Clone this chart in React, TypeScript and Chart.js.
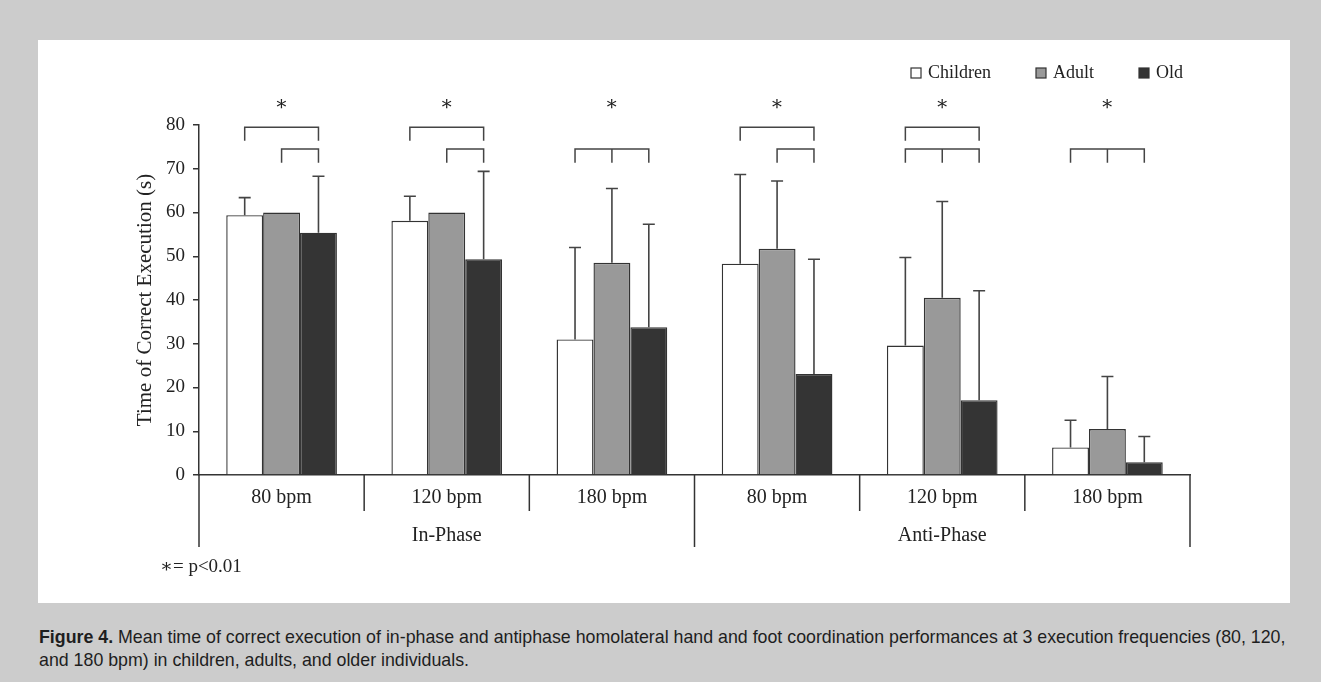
import React, { useEffect, useRef } from 'react';
import { Chart, registerables } from 'chart.js';

Chart.register(...registerables);

// ---------- data ----------
const categories = ['80 bpm', '120 bpm', '180 bpm', '80 bpm', '120 bpm', '180 bpm'];
const phaseGroups = ['In-Phase', 'Anti-Phase'];
const phaseGroupSizes = [3, 3];
const seriesNames = ['Children', 'Adult', 'Old'];
const childrenMeans = [59.4, 58.1, 31.0, 48.3, 29.6, 6.3];
const childrenSD = [4.0, 5.6, 21.0, 20.4, 20.1, 6.2];
const adultMeans = [60.0, 60.0, 48.5, 51.7, 40.5, 10.5];
const adultSD = [0, 0, 17.0, 15.5, 22.0, 12.0];
const oldMeans = [55.4, 49.3, 33.8, 23.1, 17.1, 2.9];
const oldSD = [12.9, 20.1, 23.5, 26.2, 25.0, 5.9];
const yMin = 0;
const yMax = 80;
const yStep = 10;
// significance brackets: category index, first bar, last bar, level (0 upper, 1 lower), middle leg
const bracketCats = [0, 0, 1, 1, 2, 3, 3, 4, 4, 5];
const bracketFrom = [0, 1, 0, 1, 0, 0, 1, 0, 0, 0];
const bracketTo = [2, 2, 2, 2, 2, 2, 2, 2, 2, 2];
const bracketLevel = [0, 1, 0, 1, 1, 0, 1, 0, 1, 1];
const bracketMidLeg = [false, false, false, false, true, false, false, false, true, true];
const bracketLevelValues = [79.5, 74.5];
const bracketLegDrop = 3.1;
const asteriskValue = 84.6;
const significanceNote = '∗= p<0.01';
const captionBold = 'Figure 4.';
const captionLine1 =
  ' Mean time of correct execution of in-phase and antiphase homolateral hand and foot coordination performances at 3 execution frequencies (80, 120,';
const captionLine2 = 'and 180 bpm) in children, adults, and older individuals.';

const seriesMeans = [childrenMeans, adultMeans, oldMeans];
const seriesSD = [childrenSD, adultSD, oldSD];
const seriesFill = ['#ffffff', '#999999', '#343434'];

const SERIF = "'Liberation Serif', 'Times New Roman', Times, 'DejaVu Serif', serif";
const INK = '#333333';
const TEXT = '#222222';

const overlayPlugin = {
  id: 'overlay',
  afterDatasetsDraw(chart: any) {
    const { ctx } = chart;
    const y = chart.scales.y;
    ctx.save();
    ctx.strokeStyle = '#444444';
    ctx.lineWidth = 1.6;
    seriesSD.forEach((sds, di) => {
      const meta = chart.getDatasetMeta(di);
      sds.forEach((sd, i) => {
        if (!sd) return;
        const bar = meta.data[i];
        const top = y.getPixelForValue(seriesMeans[di][i] + sd);
        ctx.beginPath();
        ctx.moveTo(bar.x, bar.y);
        ctx.lineTo(bar.x, top);
        ctx.moveTo(bar.x - 6, top);
        ctx.lineTo(bar.x + 6, top);
        ctx.stroke();
      });
    });
    ctx.restore();
  },
  afterDraw(chart: any) {
    const { ctx, chartArea } = chart;
    const x = chart.scales.x;
    const y = chart.scales.y;
    const axisY = chartArea.bottom;
    ctx.save();
    ctx.strokeStyle = INK;
    ctx.lineWidth = 1.5;

    // category separators and group separators below the x axis
    const n = categories.length;
    const groupEdges = [0];
    phaseGroupSizes.forEach((s) => groupEdges.push(groupEdges[groupEdges.length - 1] + s));
    for (let b = 0; b <= n; b++) {
      const px = x.getPixelForValue(b - 0.5);
      const long = groupEdges.includes(b);
      ctx.beginPath();
      ctx.moveTo(px, axisY);
      ctx.lineTo(px, axisY + (long ? 72 : 36));
      ctx.stroke();
    }

    // group labels
    ctx.fillStyle = TEXT;
    ctx.font = `20px ${SERIF}`;
    ctx.textAlign = 'center';
    ctx.textBaseline = 'middle';
    phaseGroups.forEach((g, gi) => {
      const a = x.getPixelForValue(groupEdges[gi] - 0.5);
      const b = x.getPixelForValue(groupEdges[gi + 1] - 0.5);
      ctx.fillText(g, (a + b) / 2, axisY + 61);
    });

    // significance brackets
    ctx.strokeStyle = '#444444';
    bracketCats.forEach((c, k) => {
      const x0 = chart.getDatasetMeta(bracketFrom[k]).data[c].x;
      const x1 = chart.getDatasetMeta(bracketTo[k]).data[c].x;
      const lv = bracketLevelValues[bracketLevel[k]];
      const yb = y.getPixelForValue(lv);
      const yl = y.getPixelForValue(lv - bracketLegDrop);
      ctx.beginPath();
      ctx.moveTo(x0, yl);
      ctx.lineTo(x0, yb);
      ctx.lineTo(x1, yb);
      ctx.lineTo(x1, yl);
      if (bracketMidLeg[k]) {
        const xm = chart.getDatasetMeta(1).data[c].x;
        ctx.moveTo(xm, yb);
        ctx.lineTo(xm, yl);
      }
      ctx.stroke();
    });

    // asterisks
    ctx.font = `20px ${SERIF}`;
    ctx.fillStyle = TEXT;
    categories.forEach((_, c) => {
      const x0 = chart.getDatasetMeta(0).data[c].x;
      const x1 = chart.getDatasetMeta(2).data[c].x;
      ctx.fillText('∗', (x0 + x1) / 2, y.getPixelForValue(asteriskValue));
    });

    // footnote
    ctx.textAlign = 'left';
    ctx.font = `19px ${SERIF}`;
    ctx.fillText(significanceNote, 122, axisY + 92);

    // legend (right aligned)
    ctx.font = `18px ${SERIF}`;
    const box = 10;
    const gapText = 7;
    const gapItem = 45;
    const widths = seriesNames.map((s) => ctx.measureText(s).width);
    const total =
      widths.reduce((a, w) => a + box + gapText + w, 0) + gapItem * (seriesNames.length - 1);
    let lx = chartArea.right - 7 - total;
    const ly = 33;
    seriesNames.forEach((s, i) => {
      ctx.fillStyle = seriesFill[i];
      ctx.fillRect(lx, ly - box / 2, box, box);
      ctx.strokeStyle = INK;
      ctx.lineWidth = 1.2;
      ctx.strokeRect(lx, ly - box / 2, box, box);
      ctx.fillStyle = TEXT;
      ctx.fillText(s, lx + box + gapText, ly);
      lx += box + gapText + widths[i] + gapItem;
    });
    ctx.restore();
  },
};

export default function App() {
  const canvasRef = useRef<HTMLCanvasElement | null>(null);

  useEffect(() => {
    if (!canvasRef.current) return;
    const chart = new Chart(canvasRef.current, {
      type: 'bar',
      data: {
        labels: categories,
        datasets: seriesNames.map((name, i) => ({
          label: name,
          data: seriesMeans[i],
          backgroundColor: seriesFill[i],
          borderColor: INK,
          borderWidth: 1.4,
          categoryPercentage: 0.67,
          barPercentage: 1.0,
        })),
      },
      options: {
        responsive: false,
        maintainAspectRatio: false,
        animation: false,
        layout: { padding: { top: 85, right: 100, bottom: 0, left: 0 } },
        plugins: {
          legend: { display: false },
          tooltip: { enabled: false },
        },
        scales: {
          x: {
            afterFit: (axis: any) => {
              axis.height = 128;
            },
            grid: { display: true, drawOnChartArea: false, drawTicks: false, color: 'rgba(0,0,0,0)' },
            border: { display: true, color: INK, width: 1.5 },
            ticks: {
              color: TEXT,
              font: { family: SERIF, size: 20 },
              padding: 11,
              maxRotation: 0,
              autoSkip: false,
            },
          },
          y: {
            min: yMin,
            max: yMax,
            afterFit: (axis: any) => {
              axis.width = 161;
            },
            grid: { display: true, drawOnChartArea: false, drawTicks: true, tickLength: 6, color: INK, lineWidth: 1.5 },
            border: { display: true, color: INK, width: 1.5 },
            ticks: {
              stepSize: yStep,
              color: TEXT,
              font: { family: SERIF, size: 19 },
              padding: 8,
            },
            title: {
              display: true,
              text: 'Time of Correct Execution (s)',
              color: TEXT,
              font: { family: SERIF, size: 21 },
              padding: { top: 95, bottom: 0 },
            },
          },
        },
      },
      plugins: [overlayPlugin],
    });
    return () => chart.destroy();
  }, []);

  return (
    <div
      style={{
        position: 'fixed',
        left: 0,
        top: 0,
        width: 1321,
        height: 682,
        background: '#cccccc',
        overflow: 'hidden',
      }}
    >
      <div
        style={{
          position: 'absolute',
          left: 38,
          top: 40,
          width: 1252,
          height: 563,
          background: '#ffffff',
        }}
      >
        <canvas ref={canvasRef} width={1252} height={563} style={{ width: 1252, height: 563, display: 'block' }} />
      </div>
      <div
        style={{
          position: 'absolute',
          left: 39,
          top: 626,
          width: 1280,
          fontFamily: "'Liberation Sans', Arial, Helvetica, sans-serif",
          fontSize: 17.8,
          lineHeight: '23px',
          color: '#1e1e1e',
          whiteSpace: 'nowrap',
        }}
      >
        <b>{captionBold}</b>
        {captionLine1}
        <br />
        {captionLine2}
      </div>
    </div>
  );
}
